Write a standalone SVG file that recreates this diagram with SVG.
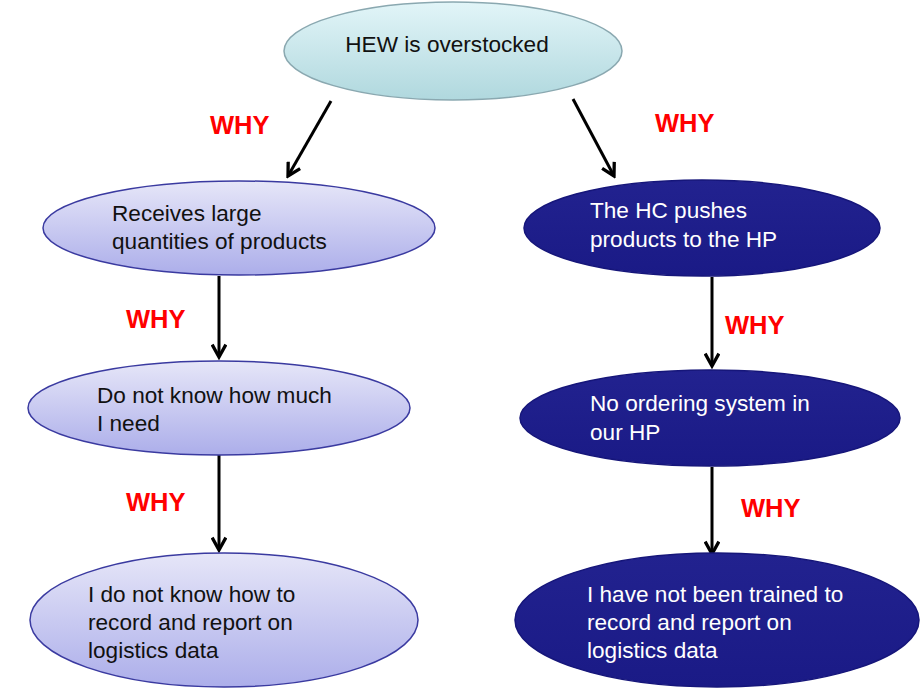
<svg xmlns="http://www.w3.org/2000/svg" width="924" height="688" viewBox="0 0 924 688">
<style>
.t{font-family:"Liberation Sans",Arial,sans-serif;font-size:22.6px;fill:#111}
.w{fill:#fff}
.why{font-family:"Liberation Sans",Arial,sans-serif;font-size:25.5px;font-weight:bold;fill:#ff0000}
.light{fill:url(#gl);stroke:#3a3aa0;stroke-width:1.5}
.dark{fill:url(#gd);stroke:#16167a;stroke-width:1.5}
.top{fill:url(#gt);stroke:#8aa8b0;stroke-width:1.5}
.c{stroke:#000;stroke-width:3;fill:none;marker-end:url(#ah)}
</style>
<defs>
<linearGradient id="gt" x1="0" y1="0" x2="0" y2="1"><stop offset="0" stop-color="#e2f5f8"/><stop offset="1" stop-color="#b0d8de"/></linearGradient>
<linearGradient id="gl" x1="0" y1="0" x2="0" y2="1"><stop offset="0" stop-color="#e6e6f8"/><stop offset="1" stop-color="#acaeea"/></linearGradient>
<linearGradient id="gd" x1="0" y1="0" x2="0" y2="1"><stop offset="0" stop-color="#22228f"/><stop offset="1" stop-color="#1a1a86"/></linearGradient>
<marker id="ah" viewBox="0 0 12 12" refX="10" refY="6" markerWidth="5.5" markerHeight="5.5" orient="auto" markerUnits="strokeWidth">
<path d="M1,1 L10,6 L1,11" fill="none" stroke="#000" stroke-width="2.4"/>
</marker>
</defs>
<g id="connectors">
<line class="c" x1="331" y1="101" x2="288" y2="176"/>
<line class="c" x1="573" y1="99" x2="614" y2="176"/>
<line class="c" x1="219" y1="276" x2="219" y2="357"/>
<line class="c" x1="219" y1="455" x2="219" y2="550"/>
<line class="c" x1="712" y1="277" x2="712" y2="366"/>
<line class="c" x1="712" y1="467" x2="712" y2="554"/>
</g>
<g id="n0"><ellipse class="top" cx="453" cy="51" rx="169" ry="49"/><text class="t" x="447" y="52" text-anchor="middle">HEW is overstocked</text></g>
<g id="n1"><ellipse class="light" cx="239" cy="228" rx="196" ry="47"/><text class="t" x="112" y="221">Receives large</text><text class="t" x="112" y="249">quantities of products</text></g>
<g id="n2"><ellipse class="dark" cx="702" cy="228" rx="178" ry="48"/><text class="t w" x="590" y="218">The HC pushes</text><text class="t w" x="590" y="247">products to the HP</text></g>
<g id="n3"><ellipse class="light" cx="219" cy="408" rx="191" ry="47"/><text class="t" x="97" y="403">Do not know how much</text><text class="t" x="97" y="431">I need</text></g>
<g id="n4"><ellipse class="dark" cx="710" cy="418" rx="190" ry="48"/><text class="t w" x="590" y="411">No ordering system in</text><text class="t w" x="590" y="440">our HP</text></g>
<g id="n5"><ellipse class="light" cx="224" cy="620" rx="194" ry="67"/><text class="t" x="88" y="602">I do not know how to</text><text class="t" x="88" y="630">record and report on</text><text class="t" x="88" y="658">logistics data</text></g>
<g id="n6"><ellipse class="dark" cx="717" cy="620" rx="202" ry="67"/><text class="t w" x="587" y="602">I have not been trained to</text><text class="t w" x="587" y="630">record and report on</text><text class="t w" x="587" y="658">logistics data</text></g>
<g id="labels">
<text class="why" x="210" y="134">WHY</text>
<text class="why" x="655" y="132">WHY</text>
<text class="why" x="126" y="328">WHY</text>
<text class="why" x="725" y="334">WHY</text>
<text class="why" x="126" y="511">WHY</text>
<text class="why" x="741" y="517">WHY</text>
</g>
</svg>
